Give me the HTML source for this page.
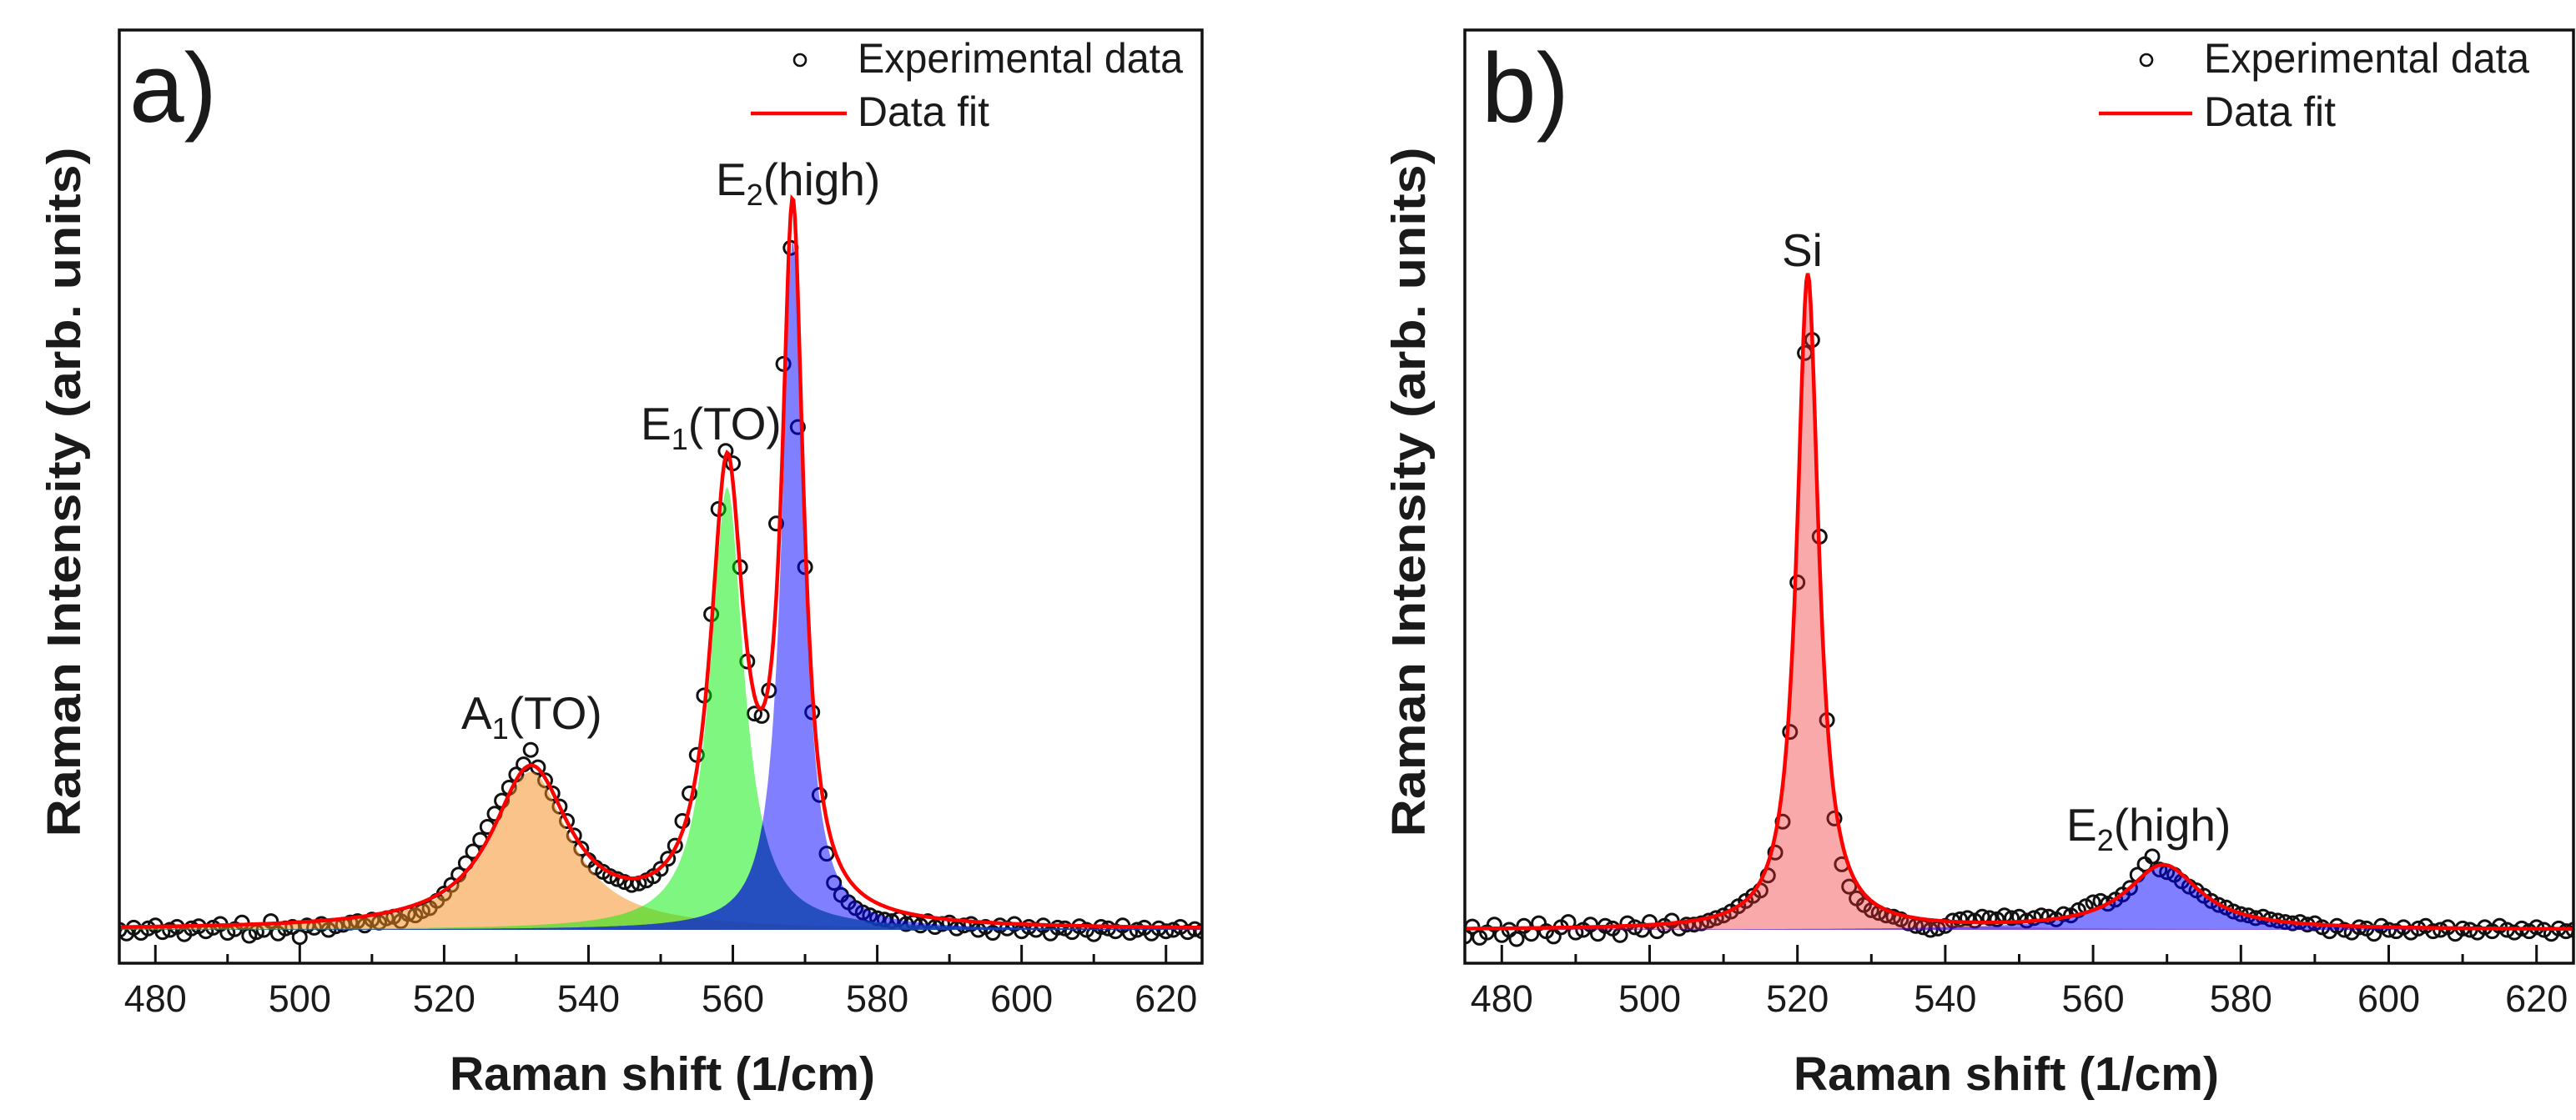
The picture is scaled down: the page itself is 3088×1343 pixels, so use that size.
<!DOCTYPE html>
<html><head><meta charset="utf-8"><style>
html,body{margin:0;padding:0;background:#fff}
svg{display:block}
text{font-family:"Liberation Sans Narrow","Liberation Sans",sans-serif;fill:#1a1a1a}
.b{font-family:"Liberation Sans",sans-serif;font-weight:bold}
</style></head><body>
<svg id="s" width="3088" height="1343" viewBox="0 0 3088 1343" xmlns="http://www.w3.org/2000/svg">
<g id="pa"></g>
<g id="pb"></g>
</svg>
<script>
// ---- data ----
const xsA = []; for (let v = 475; v <= 625; v++) xsA.push(v);
const ysA = [0,-5,3,-4,2,6,-3,0,4,-6,2,5,-2,3,8,-4,1,10,-8,-3,0,12,-5,2,4,-10,6,3,8,0,5,7,10,12,6,14,10,16,18,12,22,
20,26,30,40,50,62,76,92,108,124,142,160,178,196,214,228,248,224,206,188,170,150,130,112,96,86,80,74,70,66,62,64,68,74,84,98,116,
150,188,241,323,435,580,660,643,500,370,298,295,330,560,780,940,693,500,300,186,105,65,48,38,30,24,20,16,
14,12,15,8,10,6,12,4,8,10,2,6,8,0,4,-4,6,2,8,-2,4,0,6,-5,3,2,-3,5,0,-6,4,2,-2,6,-4,0,3,-5,2,-2,0,4,-3,1,-2];
const xsB = []; for (let v = 475; v <= 625; v++) xsB.push(v);
const ysB = [-10,5,-12,-4,8,-8,0,-14,6,-6,10,-2,-10,4,12,-4,0,8,-6,6,2,-8,10,4,0,12,-2,6,14,2,8,
8,10,14,18,22,28,36,44,52,60,83,118,165,302,530,880,900,600,320,170,100,66,48,38,30,26,22,20,16,10,6,4,0,2,6,
14,16,18,14,20,18,16,22,18,20,14,18,22,20,16,24,22,30,36,42,44,40,46,54,64,84,100,112,92,88,84,74,66,60,52,44,38,34,28,24,22,18,20,16,14,12,10,12,8,10,
4,-2,6,0,-4,4,2,-6,6,0,-2,4,-4,2,6,-2,0,4,-6,2,0,-4,4,-2,6,0,-4,2,-2,4,0,-6,2,-2,0];
// fitted peaks: centers, amplitudes, half widths
const peakCentersA = [532, 559.2, 568.3];
const peakAmpsA = [218, 610, 950];
const peakHwA = [6.5, 2.8, 1.8];
const peakCentersB = [521.4, 569.5];
const peakAmpsB = [1000, 98];
const peakHwB = [1.8, 6];
const xTicks = [480,500,520,540,560,580,600,620];

const NS = "http://www.w3.org/2000/svg";
function mk(parent, tag, attrs) {
  const e = document.createElementNS(NS, tag);
  for (const k in attrs) e.setAttribute(k, attrs[k]);
  parent.appendChild(e); return e;
}
function lor(x, c, a, w) { return a / (1 + ((x - c) / w) ** 2); }

function panel(g, cfg) {
  const X = v => cfg.x0 + (v - 475) / 150 * (cfg.x1 - cfg.x0);
  const Y = v => cfg.base - v * cfg.k;
  const clipId = 'clip' + cfg.id;
  const cp = mk(g, 'clipPath', {id: clipId});
  mk(cp, 'rect', {x: cfg.x0, y: 36, width: cfg.x1 - cfg.x0, height: 1155 - 36});
  const plot = mk(g, 'g', {'clip-path': 'url(#' + clipId + ')'});
  
  
  const pts = mk(plot, 'g', {fill: 'none', stroke: '#111', 'stroke-width': 3});
  
  
  cfg.xs.forEach((xv, i) => {
    const c = mk(pts, 'circle', {cx: X(xv).toFixed(1), cy: Y(cfg.ys[i]).toFixed(1), r: 8});
    
    
  });
  const xsF = []; for (let v = 475; v <= 625.001; v += 0.2) xsF.push(v);
  const comp = j => xsF.map(v => lor(v, cfg.c[j], cfg.a[j], cfg.w[j]));
  function area(vals, fill, name) {
    let d = 'M' + X(475) + ',' + Y(0);
    xsF.forEach((v, i) => { d += 'L' + X(v).toFixed(1) + ',' + Y(vals[i]).toFixed(1); });
    d += 'L' + X(625) + ',' + Y(0) + 'Z';
    const p = mk(plot, 'path', {d: d, fill: fill});
    
    
  }
  cfg.c.forEach((_, j) => area(comp(j), cfg.fills[j], cfg.names[j]));
  if (cfg.overlap) {
    const g1 = comp(cfg.overlap[0]), g2 = comp(cfg.overlap[1]);
    area(g1.map((v, i) => Math.min(v, g2[i])), 'rgba(20,50,190,0.6)', 'component-overlap');
  }
  let d = '';
  xsF.forEach((v, i) => {
    let s = 0; cfg.c.forEach((_, j) => s += lor(v, cfg.c[j], cfg.a[j], cfg.w[j]));
    d += (i ? 'L' : 'M') + X(v).toFixed(1) + ',' + Y(s).toFixed(1);
  });
  const fl = mk(plot, 'path', {d: d, fill: 'none', stroke: '#f00', 'stroke-width': 4.5});
  
  
  const fr = mk(g, 'rect', {x: cfg.x0, y: 36, width: cfg.x1 - cfg.x0, height: 1155 - 36, fill: 'none', stroke: '#111', 'stroke-width': 3.5});
  
  
  for (let v = 480; v <= 620; v += 10) {
    const major = v % 20 === 0;
    const t = mk(g, 'line', {x1: X(v), x2: X(v), y1: 1155, y2: 1155 - (major ? 22 : 11), stroke: '#111', 'stroke-width': 3});
    
    
  }
  xTicks.forEach(v => {
    const t = mk(g, 'text', {x: X(v), y: 1213, 'font-size': 45, 'text-anchor': 'middle'});
    t.textContent = v;
    
    
  });
}

panel(document.getElementById('pa'), {id: 'a', x0: 143, x1: 1441, base: 1115, k: 0.87, xs: xsA, ys: ysA,
  c: peakCentersA, a: peakAmpsA, w: peakHwA,
  fills: ['rgba(244,140,30,0.52)', 'rgba(0,238,0,0.5)', 'rgba(0,0,255,0.5)'],
  names: ['a1-to-component', 'e1-to-component', 'e2-high-component'], overlap: [1, 2]});
panel(document.getElementById('pb'), {id: 'b', x0: 1756, x1: 3085, base: 1115, k: 0.786, xs: xsB, ys: ysB,
  c: peakCentersB, a: peakAmpsB, w: peakHwB,
  fills: ['rgba(240,40,40,0.4)', 'rgba(0,0,255,0.5)'],
  names: ['si-component', 'e2-high-component']});
</script>
<svg style="position:absolute;left:0;top:0" width="3088" height="1343" xmlns="http://www.w3.org/2000/svg">
<text x="155" y="146" font-size="118" style="font-family:'Liberation Sans',sans-serif">a)</text>
<circle cx="959" cy="72" r="7" fill="none" stroke="#111" stroke-width="2.6"/>
<text x="1028" y="87" font-size="50" textLength="390" lengthAdjust="spacingAndGlyphs">Experimental data</text>
<line x1="900" y1="136" x2="1015" y2="136" stroke="#f00" stroke-width="4.5"/>
<text x="1028" y="151" font-size="50" textLength="158" lengthAdjust="spacingAndGlyphs">Data fit</text>
<text x="858" y="234" font-size="55">E<tspan font-size="36" dy="12">2</tspan><tspan dy="-12">(high)</tspan></text>
<text x="768" y="527" font-size="55">E<tspan font-size="36" dy="12">1</tspan><tspan dy="-12">(TO)</tspan></text>
<text x="553" y="874" font-size="55">A<tspan font-size="36" dy="12">1</tspan><tspan dy="-12">(TO)</tspan></text>
<text class="b" x="794" y="1307" font-size="57" text-anchor="middle">Raman shift (1/cm)</text>
<text class="b" transform="translate(96,590) rotate(-90)" font-size="57" text-anchor="middle" textLength="827" lengthAdjust="spacingAndGlyphs">Raman Intensity (arb. units)</text>
<text x="1776" y="146" font-size="118" style="font-family:'Liberation Sans',sans-serif">b)</text>
<circle cx="2573" cy="72" r="7" fill="none" stroke="#111" stroke-width="2.6"/>
<text x="2642" y="87" font-size="50" textLength="390" lengthAdjust="spacingAndGlyphs">Experimental data</text>
<line x1="2516" y1="136" x2="2628" y2="136" stroke="#f00" stroke-width="4.5"/>
<text x="2642" y="151" font-size="50" textLength="158" lengthAdjust="spacingAndGlyphs">Data fit</text>
<text x="2136" y="319" font-size="55">Si</text>
<text x="2477" y="1008" font-size="55">E<tspan font-size="36" dy="12">2</tspan><tspan dy="-12">(high)</tspan></text>
<text class="b" x="2405" y="1307" font-size="57" text-anchor="middle">Raman shift (1/cm)</text>
<text class="b" transform="translate(1708,590) rotate(-90)" font-size="57" text-anchor="middle" textLength="827" lengthAdjust="spacingAndGlyphs">Raman Intensity (arb. units)</text>
</svg>
</body></html>
